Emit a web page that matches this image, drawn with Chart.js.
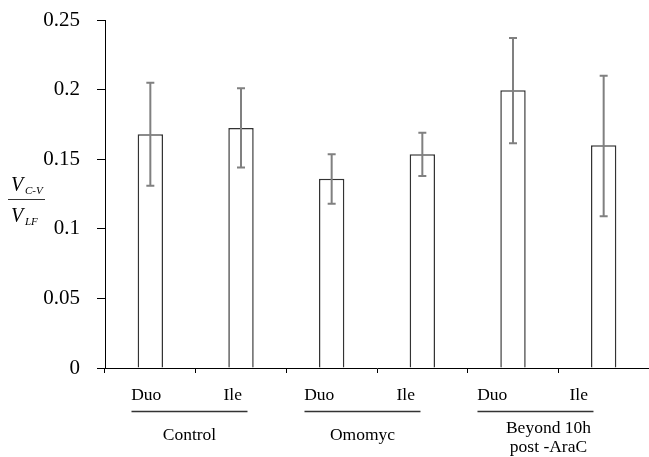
<!DOCTYPE html>
<html>
<head>
<meta charset="utf-8">
<script src="https://cdn.jsdelivr.net/npm/chart.js@4/dist/chart.umd.min.js"></script>
<style>
  html, body { margin: 0; padding: 0; background: #fff; }
  #wrap { width: 649px; height: 457px; }
</style>
</head>
<body>
<div id="wrap"><canvas id="c" width="649" height="457"></canvas></div>
<script>
// ---- data ----
const categories = ['Duo', 'Ile', 'Duo', 'Ile', 'Duo', 'Ile'];
const groups = ['Control', 'Omomyc', ['Beyond 10h', 'post -AraC']];
const means = [0.168, 0.1725, 0.136, 0.1535, 0.1995, 0.160];
const errUpper = [0.205, 0.201, 0.1535, 0.169, 0.237, 0.210];
const errLower = [0.131, 0.144, 0.118, 0.138, 0.1615, 0.109];
const yTicks = [0, 0.05, 0.1, 0.15, 0.2, 0.25];

const SERIF = '"Liberation Serif", "DejaVu Serif", serif';

// the x labels in the reference sit on a slightly compressed layer
const labelScale = 0.954;
function labelX(chart, px) {
  const left = chart.chartArea.left;
  return left + (px - left) * labelScale - 2;
}

const errorBars = {
  id: 'errorBars',
  afterDatasetsDraw(chart) {
    const ctx = chart.ctx, x = chart.scales.x, y = chart.scales.y;
    ctx.save();
    ctx.strokeStyle = '#808080';
    ctx.lineWidth = 2;
    means.forEach((m, i) => {
      const cx = x.getPixelForValue(i);
      const yt = y.getPixelForValue(errUpper[i]);
      const yb = y.getPixelForValue(errLower[i]);
      ctx.beginPath();
      ctx.moveTo(cx, yt); ctx.lineTo(cx, yb);
      ctx.moveTo(cx - 4, yt); ctx.lineTo(cx + 4, yt);
      ctx.moveTo(cx - 4, yb); ctx.lineTo(cx + 4, yb);
      ctx.stroke();
    });
    ctx.restore();
  }
};

const labelsPlugin = {
  id: 'labelsPlugin',
  afterDraw(chart) {
    const ctx = chart.ctx, x = chart.scales.x;
    const base = chart.chartArea.bottom;
    ctx.save();
    ctx.fillStyle = '#000';
    ctx.textAlign = 'center';
    ctx.textBaseline = 'middle';
    ctx.font = '17.5px ' + SERIF;
    categories.forEach((c, i) => {
      ctx.fillText(c, labelX(chart, x.getPixelForValue(i)), base + 27);
    });
    groups.forEach((g, gi) => {
      const mid = (x.getPixelForValue(gi * 2) + x.getPixelForValue(gi * 2 + 1)) / 2;
      const lx = labelX(chart, mid);
      ctx.strokeStyle = '#333';
      ctx.lineWidth = 1.5;
      ctx.beginPath();
      ctx.moveTo(lx - 58, base + 43.5);
      ctx.lineTo(lx + 58, base + 43.5);
      ctx.stroke();
      if (Array.isArray(g)) {
        ctx.fillText(g[0], lx + 13, base + 60);
        ctx.fillText(g[1], lx + 13, base + 79);
      } else {
        ctx.fillText(g, lx, base + 67);
      }
    });
    // y-axis title: V_{C-V} / V_{LF}
    ctx.textAlign = 'left';
    ctx.textBaseline = 'alphabetic';
    ctx.font = 'italic 20px ' + SERIF;
    ctx.fillText('V', 11, 191);
    ctx.fillText('V', 11, 222);
    ctx.font = 'italic 11px ' + SERIF;
    ctx.fillText('C-V', 25, 194);
    ctx.fillText('LF', 25, 225);
    ctx.strokeStyle = '#333';
    ctx.lineWidth = 1.2;
    ctx.beginPath();
    ctx.moveTo(8, 199.5); ctx.lineTo(45, 199.5);
    ctx.stroke();
    ctx.restore();
  }
};

new Chart(document.getElementById('c'), {
  type: 'bar',
  data: {
    labels: categories,
    datasets: [{
      data: means,
      backgroundColor: '#ffffff',
      borderColor: '#333333',
      borderWidth: 1.5,
      categoryPercentage: 1,
      barPercentage: 0.28
    }]
  },
  options: {
    responsive: false,
    animation: false,
    devicePixelRatio: 1,
    layout: { padding: { left: 30, top: 20, right: 0, bottom: 84 } },
    plugins: { legend: { display: false }, tooltip: { enabled: false } },
    scales: {
      x: {
        offset: true,
        grid: { display: true, offset: true, drawOnChartArea: false, drawTicks: true, tickLength: 5, color: '#000', lineWidth: 1 },
        border: { display: true, color: '#000', width: 1 },
        ticks: { display: false }
      },
      y: {
        min: 0, max: 0.25,
        afterBuildTicks(scale) { scale.ticks = yTicks.map(v => ({ value: v })); },
        afterFit(scale) { scale.width = 75; scale.paddingTop = 0; scale.paddingBottom = 0; },
        grid: { display: true, drawOnChartArea: false, drawTicks: true, tickLength: 8, color: '#000', lineWidth: 1 },
        border: { display: true, color: '#000', width: 1 },
        ticks: {
          padding: 17,
          color: '#000',
          font: { family: SERIF, size: 21 },
          callback: v => String(v)
        }
      }
    }
  },
  plugins: [errorBars, labelsPlugin]
});
</script>
</body>
</html>
